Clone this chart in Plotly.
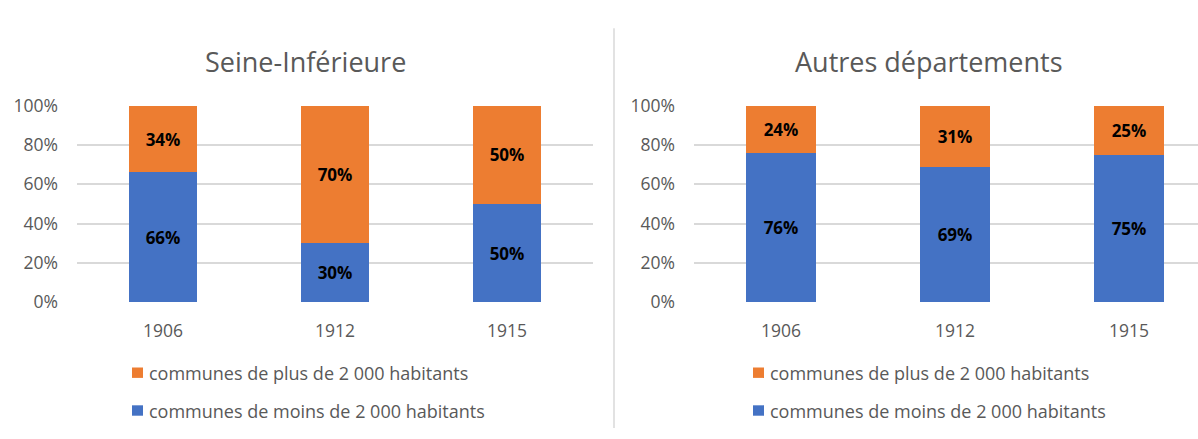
import plotly.graph_objects as go

years = ["1906", "1912", "1915"]
seine_moins = [66, 30, 50]
seine_plus = [34, 70, 50]
autres_moins = [76, 69, 75]
autres_plus = [24, 31, 25]
titles = ["Seine-Inférieure", "Autres départements"]
name_plus = "communes de plus de 2 000 habitants"
name_moins = "communes de moins de 2 000 habitants"

BLUE = "#4472C4"
ORANGE = "#ED7D31"
GREY = "#595959"
FONT = "Open Sans"
W, H = 1198, 439


def px(x):
    return x / W


def py(y):
    return (H - y) / H


fig = go.Figure()


def add_bars(xa, ya, moins, plus, width):
    for vals, col, nm in [(moins, BLUE, name_moins), (plus, ORANGE, name_plus)]:
        fig.add_trace(go.Bar(
            x=years, y=vals, name=nm, marker=dict(color=col, line=dict(width=0)),
            text=[f"{v}%" for v in vals], textposition="inside",
            insidetextanchor="middle", textangle=0,
            textfont=dict(family=FONT, size=17, color="black", weight="bold"),
            xaxis=xa, yaxis=ya, showlegend=False, width=width,
        ))


add_bars("x", "y", seine_moins, seine_plus, 0.395)
add_bars("x2", "y2", autres_moins, autres_plus, 0.40)

ax_common = dict(showgrid=False, zeroline=False, showline=False, ticks="",
                 tickfont=dict(family=FONT, size=17.5, color=GREY), ticklabelstandoff=16)
yax_common = dict(range=[0, 100], tickvals=[0, 20, 40, 60, 80, 100],
                  ticktext=["0%", "20%", "40%", "60%", "80%", "100%"],
                  showgrid=True, gridcolor="#D9D9D9", gridwidth=1.5, zeroline=False,
                  showline=False, ticks="", domain=[py(306), py(98)],
                  tickfont=dict(family=FONT, size=17.5, color=GREY))

right_units = (W - 694) / 174.0

fig.update_layout(
    width=W, height=H, margin=dict(l=0, r=0, t=0, b=0),
    paper_bgcolor="white", plot_bgcolor="white",
    barmode="stack",
    xaxis=dict(domain=[px(77), px(593)], range=[-0.5, 2.5], type="category", **ax_common),
    xaxis2=dict(domain=[px(694), 1.0], range=[-0.5, -0.5 + right_units], type="category",
                anchor="y2", **ax_common),
    yaxis=dict(anchor="x", ticklabelstandoff=18, **yax_common),
    yaxis2=dict(anchor="x2", ticklabelstandoff=18, **yax_common),
    uniformtext=dict(minsize=10, mode="show"),
)

annotations = []
shapes = []
for tx, cx in zip(titles, [305, 929]):
    annotations.append(dict(text=tx, x=px(cx), y=py(51), xref="paper", yref="paper",
                            showarrow=False, xanchor="center", yanchor="middle",
                            font=dict(family=FONT, size=27, color=GREY)))
for sx in [132, 753]:
    for yy, col, nm in [(380.5, ORANGE, name_plus), (420.5, BLUE, name_moins)]:
        shapes.append(dict(type="rect", xref="paper", yref="paper",
                           x0=px(sx), x1=px(sx + 11), y0=py(yy + 5.5), y1=py(yy - 5.5),
                           fillcolor=col, line=dict(width=0)))
        annotations.append(dict(text=nm, x=px(sx + 15), y=py(yy), xref="paper", yref="paper",
                                showarrow=False, xanchor="left", yanchor="middle",
                                font=dict(family=FONT, size=18, color=GREY)))
shapes.append(dict(type="line", xref="paper", yref="paper", x0=px(614), x1=px(614),
                   y0=0, y1=py(16), line=dict(color="#D9D9D9", width=1.5)))
fig.update_layout(annotations=annotations, shapes=shapes)

fig.write_html("out.html", config={"displayModeBar": False},
               post_script="document.body.style.margin='0px';")
